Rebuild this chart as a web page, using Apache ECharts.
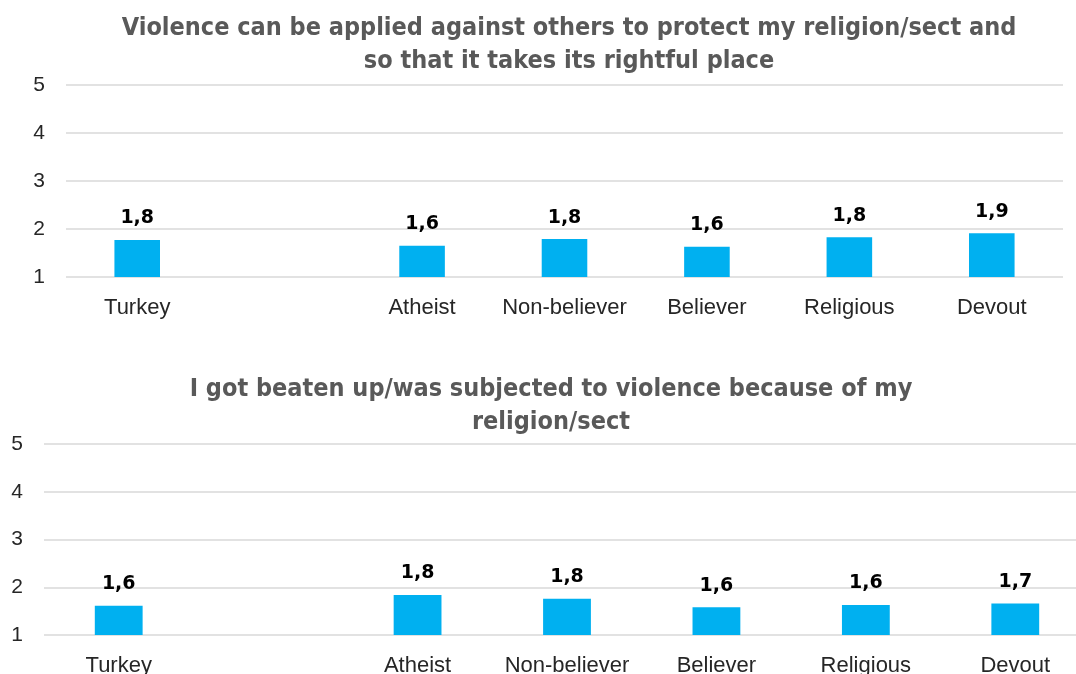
<!DOCTYPE html>
<html>
<head>
<meta charset="utf-8">
<script src="https://cdn.jsdelivr.net/npm/echarts@6/dist/echarts.min.js"></script>
<style>
  html, body { margin: 0; padding: 0; background: #fff; }
  #chart { width: 1076px; height: 674px; }
</style>
</head>
<body>
<div id="chart"></div>
<script>
// Religiosity groups (the empty slot separates the national figure from the groups)
const categories = ['Turkey', '', 'Atheist', 'Non-believer', 'Believer', 'Religious', 'Devout'];

// Mean agreement scores on a 1-5 scale
const violenceJustified = [1.77, null, 1.65, 1.79, 1.63, 1.83, 1.91];
const experiencedViolence = [1.61, null, 1.84, 1.76, 1.58, 1.63, 1.66];

const titleTop = 'Violence can be applied against others to protect my religion/sect and\nso that it takes its rightful place';
const titleBottom = 'I got beaten up/was subjected to violence because of my\nreligion/sect';

const yTicks = { min: 1, max: 5, interval: 1 };

const barColor = '#00B0F0';
const gridColor = '#d9d9d9';
const textColor = '#262626';

function fmt(v) {
  return v.toFixed(1).replace('.', ',');
}

function xAxisFor(gridIndex) {
  return {
    type: 'category',
    gridIndex: gridIndex,
    data: categories,
    axisLine: { show: false },
    axisTick: { show: false },
    axisLabel: {
      color: textColor,
      fontFamily: 'Liberation Sans',
      fontSize: 22,
      margin: 20,
      interval: 0
    }
  };
}

function yAxisFor(gridIndex) {
  return {
    type: 'value',
    gridIndex: gridIndex,
    min: yTicks.min,
    max: yTicks.max,
    interval: yTicks.interval,
    axisLine: { show: false },
    axisTick: { show: false },
    axisLabel: {
      color: textColor,
      fontFamily: 'Liberation Sans',
      fontSize: 21,
      margin: 21
    },
    splitLine: { lineStyle: { color: gridColor, width: 1.5 } }
  };
}

function barSeries(index, data) {
  return {
    type: 'bar',
    xAxisIndex: index,
    yAxisIndex: index,
    data: data,
    barWidth: '32%',
    itemStyle: { color: barColor },
    label: {
      show: true,
      position: 'top',
      distance: 12,
      color: '#000',
      fontFamily: 'DejaVu Sans',
      fontWeight: 'bold',
      fontSize: 19,
      formatter: p => fmt(p.value)
    },
    animation: false
  };
}

const titleStyle = {
  color: '#595959',
  fontFamily: "'DejaVu Sans Condensed', Roboto, sans-serif",
  fontWeight: 'bold',
  fontSize: 25,
  lineHeight: 33
};

const chart = echarts.init(document.getElementById('chart'), null, { renderer: 'canvas' });
chart.setOption({
  backgroundColor: '#fff',
  animation: false,
  title: [
    {
      text: titleTop,
      left: 564,
      top: 7,
      textAlign: 'center',
      textStyle: titleStyle
    },
    {
      text: titleBottom,
      left: 546,
      top: 368,
      textAlign: 'center',
      textStyle: titleStyle
    }
  ],
  grid: [
    { left: 66, right: 13, top: 85, bottom: 397, outerBoundsMode: 'none' },
    { left: 44, right: -14, top: 444, bottom: 39, outerBoundsMode: 'none' }
  ],
  xAxis: [xAxisFor(0), xAxisFor(1)],
  yAxis: [yAxisFor(0), yAxisFor(1)],
  series: [
    barSeries(0, violenceJustified),
    barSeries(1, experiencedViolence)
  ]
});
</script>
</body>
</html>
